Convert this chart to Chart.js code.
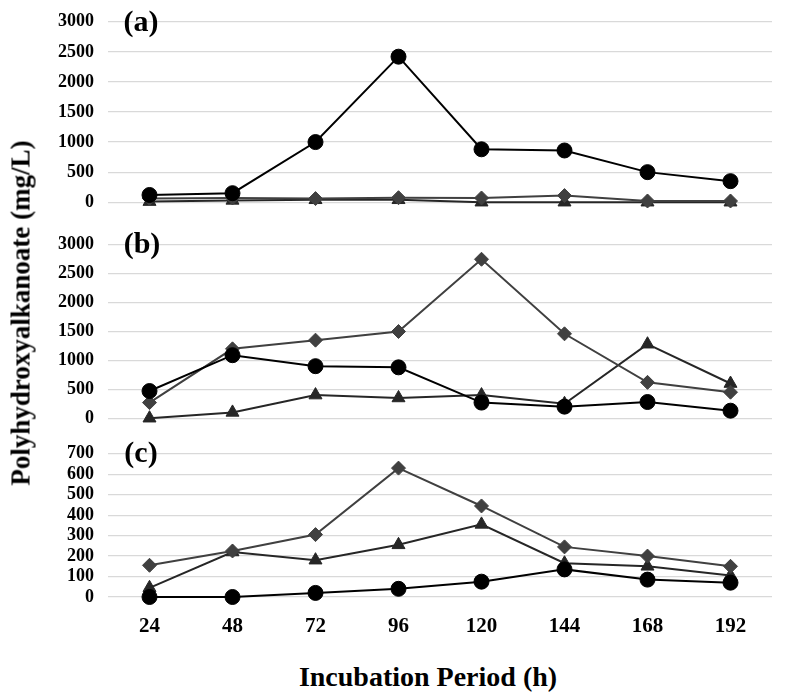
<!DOCTYPE html>
<html>
<head>
<meta charset="utf-8">
<script src="https://cdn.jsdelivr.net/npm/chart.js@4/dist/chart.umd.min.js"></script>
<style>
  body { margin: 0; background: #fff; }
  #wrap { position: relative; width: 786px; height: 695px; overflow: hidden; font-family: "Liberation Serif", "Times New Roman", serif; font-weight: bold; color: #000; }
  canvas { position: absolute; left: 0; }
  .lbl { position: absolute; white-space: nowrap; transform: translate(-50%, -50%); }
</style>
</head>
<body>
<div id="wrap">
  <canvas id="ca" width="786" height="230" style="top:-3px"></canvas>
  <canvas id="cb" width="786" height="223" style="top:220px"></canvas>
  <canvas id="cc" width="786" height="218" style="top:429px"></canvas>
  <div class="lbl" style="left:141px; top:21px; font-size:30px">(a)</div>
  <div class="lbl" style="left:142px; top:243px; font-size:30px">(b)</div>
  <div class="lbl" style="left:141px; top:452px; font-size:30px">(c)</div>
  <div class="lbl" style="left:21px; top:313px; font-size:27px; transform: translate(-50%, -50%) rotate(-90deg)">Polyhydroxyalkanoate (mg/L)</div>
  <div class="lbl" style="left:428px; top:677px; font-size:28px">Incubation Period (h)</div>
</div>
<script>
// incubation hours
const hours = ['24', '48', '72', '96', '120', '144', '168', '192']

// panel (a)
const aCircle = [120, 150, 1000, 2420, 880, 860, 500, 350]
const aDiamond = [60, 70, 60, 75, 70, 110, 20, 20]
const aTriangle = [10, 30, 40, 40, 0, 0, 0, 0]

// panel (b)
const bCircle = [470, 1090, 900, 880, 270, 200, 280, 130]
const bDiamond = [270, 1200, 1350, 1500, 2750, 1460, 620, 450]
const bTriangle = [0, 100, 400, 350, 400, 250, 1280, 600]

// panel (c)
const cCircle = [0, 0, 20, 40, 75, 135, 85, 70]
const cDiamond = [155, 225, 305, 630, 445, 245, 200, 150]
const cTriangle = [45, 220, 180, 255, 355, 165, 150, 105]

const tickFont = { family: "'Liberation Serif', 'Times New Roman', serif", weight: 'bold' }

function series(data, style, color, radius) {
    return {
        data,
        pointStyle: style,
        borderColor: color,
        backgroundColor: color,
        pointBackgroundColor: color,
        pointBorderColor: color,
        pointRadius: radius,
        pointHoverRadius: radius,
        borderWidth: 2,
        pointBorderWidth: 1,
        tension: 0,
        clip: false
    }
}

function panel(id, circle, triangle, diamond, yMax, step, showX) {
    new Chart(document.getElementById(id), {
        type: 'line',
        data: {
            labels: hours,
            datasets: [
                series(circle, 'circle', '#000000', 7.5),
                series(diamond, 'rectRot', '#404040', 7),
                series(triangle, 'triangle', '#262626', 7.5)
            ]
        },
        options: {
            responsive: false,
            animation: false,
            events: [],
            layout: { padding: { top: 14, right: 14, bottom: showX ? 0 : 14, left: 0 } },
            plugins: { legend: { display: false }, tooltip: { enabled: false } },
            scales: {
                x: {
                    display: showX,
                    offset: true,
                    grid: { display: false, drawTicks: false },
                    border: { display: false },
                    ticks: { color: '#000', padding: 17, font: { ...tickFont, size: 21 }, maxRotation: 0, autoSkip: false },
                    afterFit: s => { if (showX) s.height = 50 }
                },
                y: {
                    min: 0,
                    max: yMax,
                    ticks: { stepSize: step, autoSkip: false, color: '#000', padding: 14, font: { ...tickFont, size: 18 }, callback: v => String(v) },
                    grid: { color: '#d9d9d9', lineWidth: 1.2, drawTicks: false },
                    border: { display: false },
                    afterFit: s => { s.width = 108 }
                }
            }
        }
    })
}

panel('ca', aCircle, aTriangle, aDiamond, 3000, 500, false)
panel('cb', bCircle, bTriangle, bDiamond, 3000, 500, false)
panel('cc', cCircle, cTriangle, cDiamond, 700, 100, true)
</script>
</body>
</html>
